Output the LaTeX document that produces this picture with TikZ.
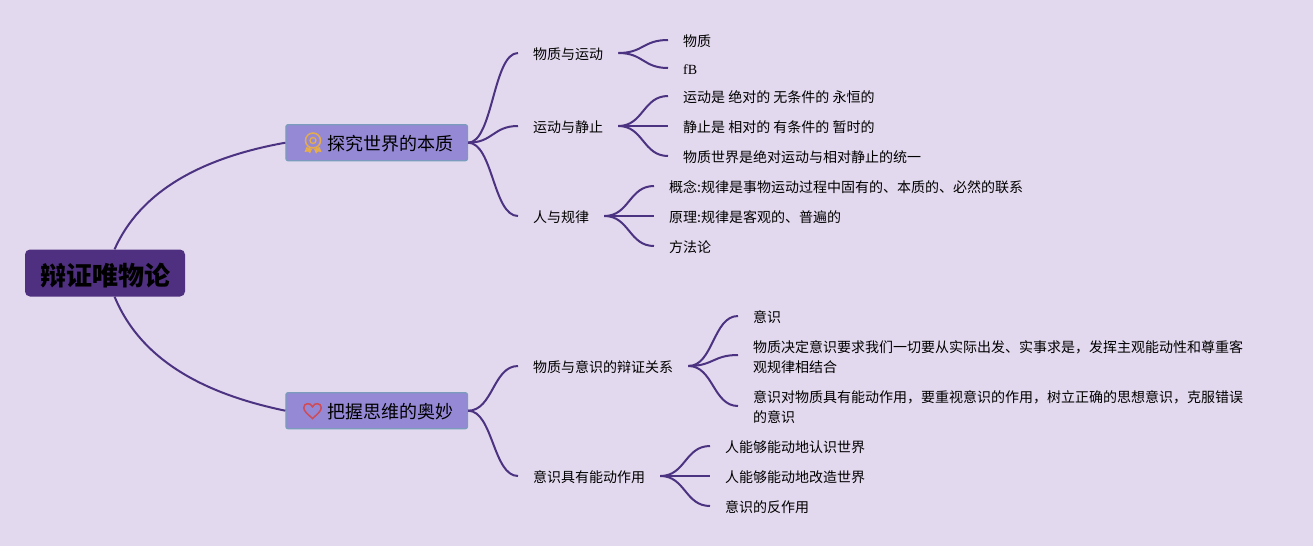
\documentclass[tikz,border=0pt]{standalone}
\usepackage{fontspec}
\setmainfont{Noto Sans CJK SC}
\newfontfamily\latinserif{Liberation Serif}
\definecolor{pagebg}{HTML}{E3D9EE}
\definecolor{linkcol}{HTML}{4B3382}
\definecolor{rootcol}{HTML}{4F2F7F}
\definecolor{branchcol}{HTML}{9589D5}
\definecolor{branchedge}{HTML}{7B9CBC}
\definecolor{medalcol}{HTML}{E5AC4B}
\definecolor{heartcol}{HTML}{CF4B55}
\tikzset{
  link/.style={draw=linkcol, line width=2pt, every to/.style={to path={.. controls +(25,0) and +(-25,0) .. (\tikztotarget)}}},
  rootbox/.style={fill=rootcol, rounded corners=5pt, minimum width=160pt, minimum height=47pt,
    inner sep=0pt, text height=27pt, text depth=3pt, font=\fontsize{26}{30}\selectfont\bfseries},
  branchbox/.style={fill=branchcol, draw=branchedge, line width=1.2pt, rounded corners=2pt,
    minimum height=36pt, inner xsep=14pt, inner ysep=0pt, text width=153.5pt, align=right,
    text height=17.8pt, text depth=2.2pt, font=\fontsize{18}{22}\selectfont},
  wrapbox/.style={anchor=west, inner xsep=15pt, inner ysep=2pt, align=left, font=\fontsize{14}{20}\selectfont},
  topicbox/.style={wrapbox, text height=14.5pt, text depth=2pt},
  leafbox/.style={topicbox}
}
\begin{document}
\begin{tikzpicture}[x=1pt, y=-1pt]
    \fill[pagebg] (0,0) rectangle (1313,546);
    \useasboundingbox (0,0) rectangle (1313,546);

    \node[rootbox] (root) at (105,273) {辩证唯物论};
    \node[branchbox] (world) at (376.7,142.7) {探究世界的本质};
    \node[branchbox] (mind) at (376.7,410.7) {把握思维的奥妙};

    \draw[medalcol, line width=1.5pt] (313,140.5) circle (7.5);
    \draw[medalcol, line width=1.3pt] (313,140.5) circle (3);
    \fill[medalcol] (306.5,147) -- (304.5,152) -- (308,151.5) -- (310,153.5) -- (312,149) -- cycle;
    \fill[medalcol] (319.5,147) -- (321.5,152) -- (318,151.5) -- (316,153.5) -- (314,149) -- cycle;
    \draw[heartcol, line width=1.5pt] (312.5,418.5) .. controls (307,413.5) and (303.8,411) .. (303.8,407.6)
        .. controls (303.8,403) and (310.5,402) .. (312.5,406.8)
        .. controls (314.5,402) and (321.2,403) .. (321.2,407.6)
        .. controls (321.2,411) and (318,413.5) .. (312.5,418.5) -- cycle;

    \node[topicbox] (matter) at (518,53) {物质与运动};
    \node[topicbox] (motion) at (518,126) {运动与静止};
    \node[topicbox] (law) at (518,216) {人与规律};
    \node[topicbox] (relation) at (518,366) {物质与意识的辩证关系};
    \node[topicbox] (active) at (518,476) {意识具有能动作用};

    \node[leafbox] (m1) at (668,40) {物质};
    \node[leafbox] (m2) at (668,68) {\latinserif fB};
    \node[leafbox] (s1) at (668,96) {运动是 绝对的 无条件的 永恒的};
    \node[leafbox] (s2) at (668,126) {静止是 相对的 有条件的 暂时的};
    \node[leafbox] (s3) at (668,156) {物质世界是绝对运动与相对静止的统一};
    \node[leafbox] (l1) at (654,186) {概念:规律是事物运动过程中固有的、本质的、必然的联系};
    \node[leafbox] (l2) at (654,216) {原理:规律是客观的、普遍的};
    \node[leafbox] (l3) at (654,246) {方法论};
    \node[leafbox] (r1) at (738,316) {意识};
    \node[wrapbox] (r2) at (738,357) {物质决定意识要求我们一切要从实际出发、实事求是，发挥主观能动性和尊重客\\观规律相结合};
    \node[wrapbox] (r3) at (738,407) {意识对物质具有能动作用，要重视意识的作用，树立正确的思想意识，克服错误\\的意识};
    \node[leafbox] (a1) at (710,446) {人能够能动地认识世界};
    \node[leafbox] (a2) at (710,476) {人能够能动地改造世界};
    \node[leafbox] (a3) at (710,506) {意识的反作用};

    \draw[link] (root.68.6) .. controls (140,192) and (200,158) .. (world.west);
    \draw[link] (root.-68.6) .. controls (140,358) and (200,393) .. (mind.west);

    \draw[link] (world.east) to (matter.west);
    \draw[link] (world.east) to (motion.west);
    \draw[link] (world.east) to (law.west);
    \draw[link] (mind.east) to (relation.west);
    \draw[link] (mind.east) to (active.west);

    \draw[link] (matter.east) to (m1.west);
    \draw[link] (matter.east) to (m2.west);
    \draw[link] (motion.east) to (s1.west);
    \draw[link] (motion.east) to (s2.west);
    \draw[link] (motion.east) to (s3.west);
    \draw[link] (law.east) to (l1.west);
    \draw[link] (law.east) to (l2.west);
    \draw[link] (law.east) to (l3.west);
    \draw[link] (relation.east) to (r1.west);
    \draw[link] (relation.east) to ([yshift=2pt]r2.west);
    \draw[link] (relation.east) to ([yshift=1pt]r3.west);
    \draw[link] (active.east) to (a1.west);
    \draw[link] (active.east) to (a2.west);
    \draw[link] (active.east) to (a3.west);
\end{tikzpicture}
\end{document}
